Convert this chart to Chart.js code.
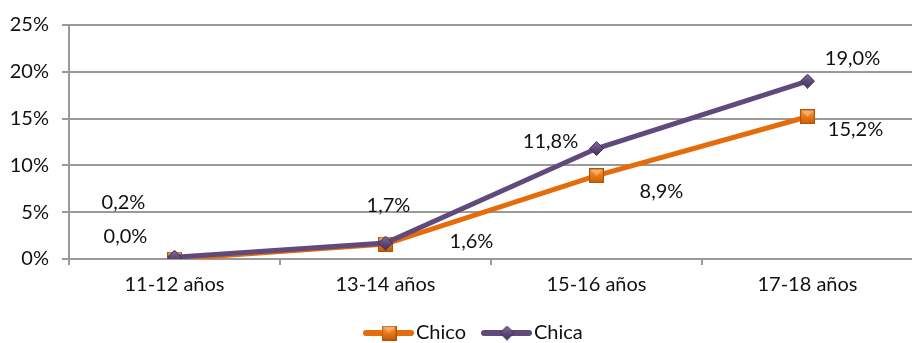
<!DOCTYPE html>
<html>
<head>
<meta charset="utf-8">
<script src="https://cdn.jsdelivr.net/npm/chart.js@4.4.1/dist/chart.umd.min.js"></script>
<style>
  html, body { margin: 0; padding: 0; background: #fff; overflow: hidden; }
  #frame { width: 912px; height: 343px; overflow: hidden; }
  #wrap { position: relative; width: 925px; height: 343px; }
</style>
</head>
<body>
<div id="frame"><div id="wrap"><canvas id="c"></canvas></div></div>
<script>
// Age groups and share (%) per group
const categories = ['11-12 años', '13-14 años', '15-16 años', '17-18 años'];
const chico = [0.0, 1.6, 8.9, 15.2];
const chica = [0.2, 1.7, 11.8, 19.0];
const yTicks = [0, 5, 10, 15, 20, 25];

const ORANGE = '#e46c0a';
const PURPLE = '#604a7b';
const GRID = '#9a9a9a';
const FONT = 'Lato, "Open Sans", sans-serif';

// Bevelled orange square marker
function squareMarker(size) {
  const c = document.createElement('canvas');
  c.width = size; c.height = size;
  const g = c.getContext('2d');
  const grad = g.createLinearGradient(0, 0, 0, size);
  grad.addColorStop(0, '#f7a45e');
  grad.addColorStop(0.5, '#e8791a');
  grad.addColorStop(1, '#c65c06');
  g.fillStyle = grad;
  g.fillRect(0, 0, size, size);
  g.fillStyle = 'rgba(255,200,140,0.55)';
  g.beginPath();
  g.moveTo(1, 1); g.lineTo(size - 1, 1); g.lineTo(size / 2, size / 2); g.closePath();
  g.fill();
  g.strokeStyle = '#b25405';
  g.lineWidth = 1.2;
  g.strokeRect(0.6, 0.6, size - 1.2, size - 1.2);
  return c;
}

// Purple diamond marker
function diamondMarker(size) {
  const c = document.createElement('canvas');
  c.width = size; c.height = size;
  const g = c.getContext('2d');
  const h = size / 2;
  const grad = g.createLinearGradient(0, 0, 0, size);
  grad.addColorStop(0, '#8a72a8');
  grad.addColorStop(0.5, '#5f4a7b');
  grad.addColorStop(1, '#45345c');
  g.fillStyle = grad;
  g.beginPath();
  g.moveTo(h, 0.5); g.lineTo(size - 0.5, h); g.lineTo(h, size - 0.5); g.lineTo(0.5, h); g.closePath();
  g.fill();
  g.strokeStyle = '#3e2e52';
  g.lineWidth = 1;
  g.stroke();
  return c;
}

const sq = squareMarker(15);
const dm = diamondMarker(15);

const fmt = v => v.toFixed(1).replace('.', ',') + '%';

// Value labels placed beside each point
const valueLabels = {
  id: 'valueLabels',
  afterDatasetsDraw(chart) {
    const ctx = chart.ctx;
    ctx.save();
    ctx.font = '20px ' + FONT;
    ctx.fillStyle = '#111';
    ctx.textAlign = 'center';
    ctx.textBaseline = 'middle';
    chart.data.datasets.forEach((ds, i) => {
      const meta = chart.getDatasetMeta(i);
      meta.data.forEach((pt, j) => {
        const off = ds.labelOffsets[j];
        ctx.fillText(fmt(ds.data[j]), pt.x + off[0], pt.y + off[1]);
      });
    });
    ctx.restore();
  }
};

// Legend: line sample with marker, then series name
const lineLegend = {
  id: 'lineLegend',
  afterDraw(chart) {
    const ctx = chart.ctx;
    const y = 333;
    const items = [
      { x: 363, ds: chart.data.datasets[0], img: sq },
      { x: 481, ds: chart.data.datasets[1], img: dm }
    ];
    ctx.save();
    ctx.font = '20px ' + FONT;
    ctx.textBaseline = 'middle';
    ctx.textAlign = 'left';
    items.forEach(it => {
      ctx.strokeStyle = it.ds.borderColor;
      ctx.lineWidth = 6;
      ctx.lineCap = 'round';
      ctx.beginPath();
      ctx.moveTo(it.x + 3, y);
      ctx.lineTo(it.x + 48, y);
      ctx.stroke();
      ctx.drawImage(it.img, it.x + 26 - it.img.width / 2, y - it.img.height / 2);
      ctx.fillStyle = '#111';
      ctx.fillText(it.ds.label, it.x + 53, y);
    });
    ctx.restore();
  }
};

new Chart(document.getElementById('c'), {
  type: 'line',
  data: {
    labels: categories,
    datasets: [
      {
        label: 'Chico',
        data: chico,
        borderColor: ORANGE,
        backgroundColor: ORANGE,
        borderWidth: 5,
        pointStyle: sq,
        pointRadius: 7,
        tension: 0,
        order: 2,
        labelOffsets: [[-49, -22], [86, -2], [65, 16], [48, 13]]
      },
      {
        label: 'Chica',
        data: chica,
        borderColor: PURPLE,
        backgroundColor: PURPLE,
        borderWidth: 5,
        pointStyle: dm,
        pointRadius: 7,
        tension: 0,
        order: 1,
        labelOffsets: [[-51, -55], [3, -38], [-46, -7], [45, -23]]
      }
    ]
  },
  options: {
    responsive: true,
    maintainAspectRatio: false,
    animation: false,
    layout: { padding: { top: 25, right: 3, left: 0, bottom: 0 } },
    plugins: {
      legend: { display: false },
      tooltip: { enabled: false }
    },
    scales: {
      x: {
        offset: true,
        afterFit(scale) { scale.height = 84; },
        grid: {
          offset: true,
          drawOnChartArea: false,
          color: GRID,
          lineWidth: 2,
          tickLength: 6
        },
        border: { color: GRID, width: 2 },
        ticks: {
          color: '#111',
          font: { family: FONT, size: 20 },
          padding: 8
        }
      },
      y: {
        min: 0,
        max: 25,
        afterFit(scale) { scale.width = 69; },
        afterBuildTicks(scale) { scale.ticks = yTicks.map(v => ({ value: v })); },
        grid: {
          color: GRID,
          lineWidth: 2,
          tickLength: 7
        },
        border: { color: GRID, width: 2 },
        ticks: {
          color: '#111',
          font: { family: FONT, size: 20 },
          padding: 13,
          callback: v => v + '%'
        }
      }
    }
  },
  plugins: [valueLabels, lineLegend]
});
</script>
</body>
</html>
